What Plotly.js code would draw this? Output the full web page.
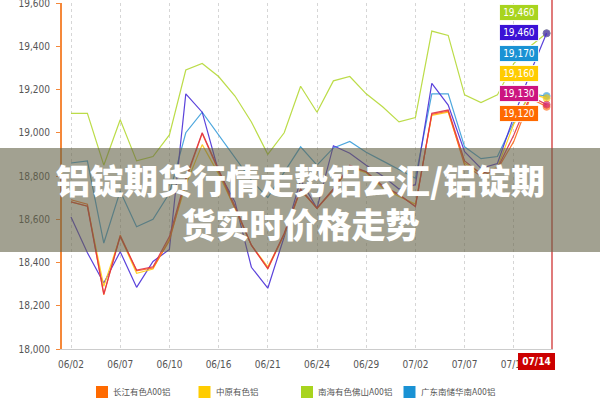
<!DOCTYPE html>
<html><head><meta charset="utf-8">
<script src="https://cdn.plot.ly/plotly-3.0.1.min.js"></script>
<style>html,body{margin:0;padding:0;background:#fff;}#chart{width:600px;height:400px;}</style>
</head><body><div id="chart"></div>
<script>
// ---- data ----
const dates = ['06/02','06/03','06/06','06/07','06/08','06/09','06/10','06/13','06/15','06/16',
               '06/17','06/20','06/21','06/22','06/23','06/24','06/27','06/28','06/29','06/30',
               '07/01','07/02','07/05','07/06','07/07','07/08','07/11','07/12','07/13','07/14'];
const tickLabels = ['06/02','06/07','06/10','06/16','06/21','06/24','06/29','07/02','07/07','07/12'];
const crosshairLabel = '07/14';

const nanhai     = [19090,19090,18850,19060,18870,18890,18990,19290,19320,19260,19170,19050,18900,19000,19215,19095,19240,19260,19180,19120,19050,19070,19470,19450,19175,19140,19175,19320,19400,19460];
const guangdong  = [18860,18870,18490,18730,18565,18600,18720,19000,19095,18990,18890,18780,18700,18820,18935,18850,18930,18960,18910,18870,18830,18790,19180,19180,18935,18880,18890,19050,19180,19170];
const shanghai   = [18610,18445,18305,18450,18285,18405,18460,19180,19095,18820,18680,18378,18281,18519,18781,18651,18940,18905,18850,18800,18740,18760,19228,19128,18912,18835,18858,19074,19276,19460];
const zhongyuan  = [18680,18660,18290,18520,18350,18370,18510,18760,18945,18810,18650,18480,18380,18530,18735,18650,18740,18840,18815,18745,18705,18670,19080,19095,18860,18810,18840,19040,19180,19160];
const changjiang = [18690,18670,18250,18527,18362,18375,18500,18780,18997,18820,18650,18480,18370,18530,18735,18650,18735,18843,18820,18750,18712,18660,19085,19100,18850,18800,18830,18960,19160,19120];
const wuxi       = [18680,18660,18255,18520,18365,18380,18520,18790,19000,18830,18660,18480,18373,18535,18740,18651,18740,18850,18820,18755,18715,18658,19090,19105,18870,18810,18835,18990,19170,19130];

const overlayLine1 = '铝锭期货行情走势铝云汇/铝锭期';
const overlayLine2 = '货实时价格走势';
const legendOrder = ['长江有色A00铝','中原有色铝','南海有色佛山A00铝','广东南储华南A00铝'];

// ---- styling ----
const W = 600, H = 400, ML = 62, MR = 47, MT = 3, MB = 51;
const PW = W - ML - MR, PH = H - MT - MB;
const Y0 = 18000, Y1 = 19600;
const FONT = '"DejaVu Sans Condensed","Liberation Sans","Noto Sans CJK SC",sans-serif';

const series = [
  {name:'南海有色佛山A00铝', data:nanhai,     line:'#b5d935', label:'#a8d41e', labelY:13},
  {name:'广东南储华南A00铝', data:guangdong,  line:'#3a9edb', label:'#1a92d4', labelY:53},
  {name:'上海有色A00铝',     data:shanghai,   line:'#4a2fd8', label:'#3b12d6', labelY:33},
  {name:'中原有色铝',        data:zhongyuan,  line:'#ffcc11', label:'#ffcc00', labelY:73},
  {name:'长江有色A00铝',     data:changjiang, line:'#ff6a1a', label:'#ff6a00', labelY:113},
  {name:'无锡有色A00铝',     data:wuxi,       line:'#e0304a', label:'#cc1580', labelY:93}
];

const last = dates.length - 1;
const traces = series.map(s => ({
  type:'scatter', mode:'lines+markers', name:s.name, x:dates, y:s.data,
  line:{color:s.line, width:1.2}, opacity:0.9,
  marker:{color:s.label, size:dates.map((d,i)=> i===last ? 7 : 0)},
  showlegend:false, hoverinfo:'x+y+name'
}));

const pxToPaperY = py => (MT + PH - py) / PH;
const pxToPaperX = px => (px - ML) / PW;
const yToPx = v => MT + (Y1 - v) / (Y1 - Y0) * PH;

const annotations = series.map(s => {
  const v = s.data[last];
  return {xref:'x', yref:'y', x:dates[last], y:v, showarrow:false,
    text:v.toLocaleString('en-US'), xshift:-28, yshift:yToPx(v) - s.labelY,
    bgcolor:s.label, bordercolor:'rgba(255,255,255,0.85)', borderwidth:1, borderpad:1,
    width:36, height:13, font:{family:FONT, size:10, color:'#fff'}};
});
annotations.push({xref:'paper', yref:'paper', x:1, y:0, xanchor:'right', yanchor:'top',
  xshift:2, yshift:-4, showarrow:false, text:crosshairLabel, bgcolor:'#cc0000',
  bordercolor:'#cc0000', borderwidth:1, borderpad:1, width:33, height:13,
  font:{family:FONT, size:10, color:'#fff', weight:'bold'}});
annotations.push({xref:'paper', yref:'paper', x:pxToPaperX(300), y:pxToPaperY(201),
  xanchor:'center', yanchor:'middle', showarrow:false, align:'center',
  text:overlayLine1 + '<br>' + overlayLine2,
  font:{family:'"Noto Sans CJK SC",sans-serif', size:34, color:'#fff', weight:900}});

const shapes = [
  {type:'line', xref:'paper', yref:'paper', x0:pxToPaperX(552), x1:pxToPaperX(552),
   y0:0, y1:pxToPaperY(0), line:{color:'#cc2222', width:1.2}, layer:'above'},
  {type:'rect', xref:'paper', yref:'paper', x0:pxToPaperX(0), x1:pxToPaperX(W),
   y0:pxToPaperY(252), y1:pxToPaperY(148), fillcolor:'rgba(100,98,72,0.6)',
   line:{width:0}, layer:'above'}
];

// legend row: colour square + name, evenly spaced
legendOrder.forEach((n, k) => {
  const s = series.find(t => t.name === n);
  const left = 96 + k * 102.5;
  shapes.push({type:'rect', xref:'paper', yref:'paper',
    x0:pxToPaperX(left), x1:pxToPaperX(left + 12), y0:pxToPaperY(398), y1:pxToPaperY(386),
    fillcolor:s.label, line:{width:0}, layer:'above'});
  annotations.push({xref:'paper', yref:'paper', x:pxToPaperX(left + 15), y:pxToPaperY(392),
    xanchor:'left', yanchor:'middle', showarrow:false, text:n,
    font:{family:FONT, size:8.5, color:'#555'}});
});

const layout = {
  width:W, height:H, margin:{l:ML, r:MR, t:MT, b:MB, pad:0, autoexpand:false},
  paper_bgcolor:'#fff', plot_bgcolor:'#fff', showlegend:false,
  font:{family:FONT, size:10, color:'#555'},
  xaxis:{type:'category', range:[-(71-ML)/16.4, (ML+PW-71)/16.4], tickvals:tickLabels,
    showgrid:true, gridcolor:'#d6d6d6', griddash:'dot', gridwidth:1,
    showline:true, linecolor:'#cccccc', linewidth:1, ticks:'', ticklabelstandoff:6,
    tickfont:{family:FONT, size:10, color:'#555'}, zeroline:false, fixedrange:true},
  yaxis:{range:[Y0,Y1], dtick:200, tickformat:',d', showgrid:false,
    showline:true, linecolor:'#f5883a', linewidth:2, ticks:'outside', ticklen:4,
    tickcolor:'#f5883a', tickwidth:1, ticklabelstandoff:4, ticklabeloverflow:'allow',
    tickfont:{family:FONT, size:10, color:'#555'}, zeroline:false, fixedrange:true},
  annotations:annotations, shapes:shapes
};
Plotly.newPlot('chart', traces, layout, {displayModeBar:false, staticPlot:true});
</script></body></html>
